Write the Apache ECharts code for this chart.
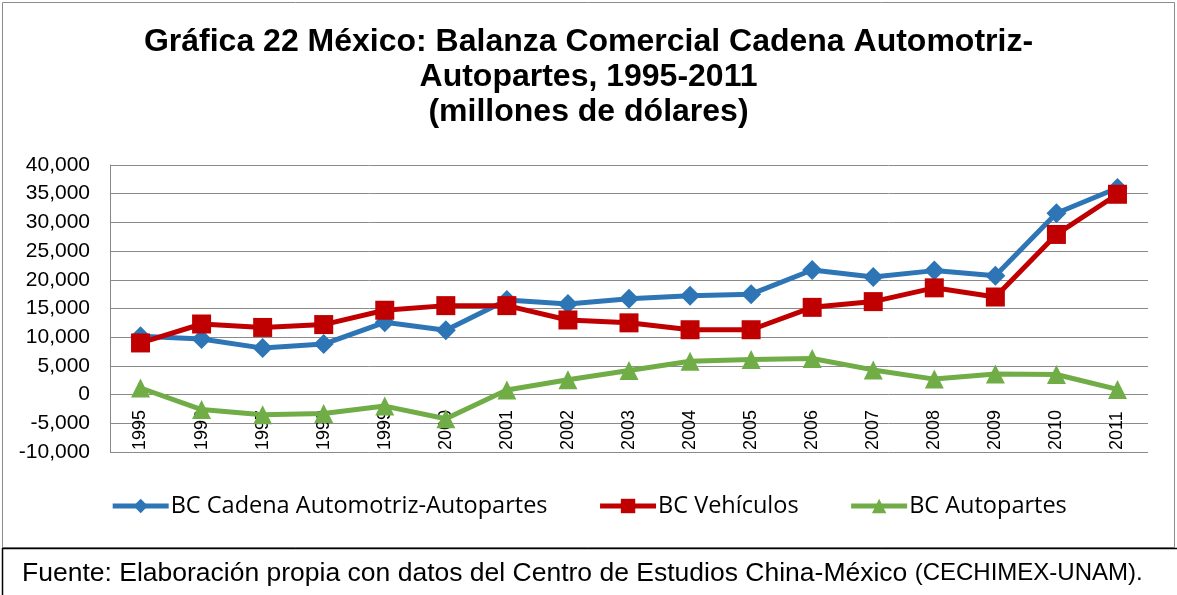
<!DOCTYPE html>
<html><head><meta charset="utf-8">
<script src="https://cdn.jsdelivr.net/npm/echarts@6/dist/echarts.min.js"></script>
<style>html,body{margin:0;padding:0;background:#fff}#c{width:1177px;height:595px}</style>
</head><body><div id="c"></div>
<script>
const years = ['1995','1996','1997','1998','1999','2000','2001','2002','2003','2004','2005','2006','2007','2008','2009','2010','2011'];
const bcCadena = [10150, 9700, 8100, 8800, 12600, 11200, 16500, 15800, 16700, 17200, 17500, 21700, 20500, 21600, 20700, 31600, 36000];
const bcVehiculos = [9000, 12300, 11700, 12200, 14700, 15500, 15500, 13000, 12500, 11300, 11300, 15200, 16200, 18600, 17000, 27900, 34900];
const bcAutopartes = [1150, -2600, -3500, -3300, -2000, -4200, 800, 2600, 4200, 5800, 6100, 6300, 4300, 2700, 3600, 3500, 900];
const seriesNames = ['BC Cadena Automotriz-Autopartes', 'BC Vehículos', 'BC Autopartes'];
const yTicks = {min: -10000, max: 40000, interval: 5000};

const chart = echarts.init(document.getElementById('c'), null, {renderer: 'canvas'});
const fmt = v => v === 0 ? '0' : (v < 0 ? '-' : '') + Math.abs(v).toLocaleString('en-US');
const ARIAL = '"Liberation Sans", Arial, sans-serif';
chart.setOption({
  animation: false,
  backgroundColor: '#fff',
  title: {
    text: 'Gráfica 22 México: Balanza Comercial Cadena Automotriz-\nAutopartes, 1995-2011\n(millones de dólares)',
    left: 'center', top: 20,
    textStyle: {fontFamily: ARIAL, fontWeight: 'bold', fontSize: 32, lineHeight: 35, color: '#000'}
  },
  legend: {
    bottom: 72, left: 'center',
    itemWidth: 56, itemHeight: 18, itemGap: 50,
    lineStyle: {width: 5},
    textStyle: {fontFamily: '"Open Sans", Lato', fontSize: 23.5, color: '#000', padding: [0, 0, 0, -3]},
    data: seriesNames
  },
  grid: {left: 110, right: 29, top: 165, bottom: 143, containLabel: false},
  xAxis: {
    type: 'category', data: years, boundaryGap: true,
    axisLine: {show: false}, axisTick: {show: false},
    axisLabel: {inside: true, rotate: 90, margin: 2, fontFamily: ARIAL, fontSize: 18, color: '#000'},
    splitLine: {show: false}
  },
  yAxis: {
    type: 'value', min: yTicks.min, max: yTicks.max, interval: yTicks.interval,
    axisLine: {show: true, lineStyle: {color: '#888', width: 1}}, axisTick: {show: false},
    axisLabel: {margin: 20, formatter: fmt, fontFamily: ARIAL, fontSize: 21, color: '#000'},
    splitLine: {show: true, lineStyle: {color: '#8a8a8a', width: 1}}
  },
  series: [
    {name: seriesNames[0], type: 'line', data: bcCadena, symbol: 'diamond', symbolSize: 20,
     lineStyle: {width: 5, color: '#2E75B6'}, itemStyle: {color: '#2E75B6'}, z: 3},
    {name: seriesNames[1], type: 'line', data: bcVehiculos, symbol: 'rect', symbolSize: 19,
     lineStyle: {width: 5, color: '#C00000'}, itemStyle: {color: '#C00000'}, z: 4},
    {name: seriesNames[2], type: 'line', data: bcAutopartes, symbol: 'triangle', symbolSize: 19,
     lineStyle: {width: 5, color: '#70AD47'}, itemStyle: {color: '#70AD47'}, z: 2}
  ],
  graphic: [
    {type: 'rect', shape: {x: 2.5, y: 2.5, width: 1172, height: 545}, style: {fill: null, stroke: '#8c8c8c', lineWidth: 1}, silent: true},
    {type: 'line', shape: {x1: 2, y1: 548.5, x2: 1177, y2: 548.5}, style: {stroke: '#000', lineWidth: 1.5}},
    {type: 'line', shape: {x1: 2.5, y1: 548, x2: 2.5, y2: 595}, style: {stroke: '#000', lineWidth: 1.5}},
    {type: 'text', left: 22, top: 560, style: {
      rich: {a: {fontFamily: ARIAL, fontSize: 26.5, fill: '#000'}, b: {fontFamily: ARIAL, fontSize: 24, fill: '#000'}},
      text: '{a|Fuente: Elaboración propia con datos del Centro de Estudios China-México }{b|(CECHIMEX-UNAM).}'
    }}
  ]
});
</script></body></html>
